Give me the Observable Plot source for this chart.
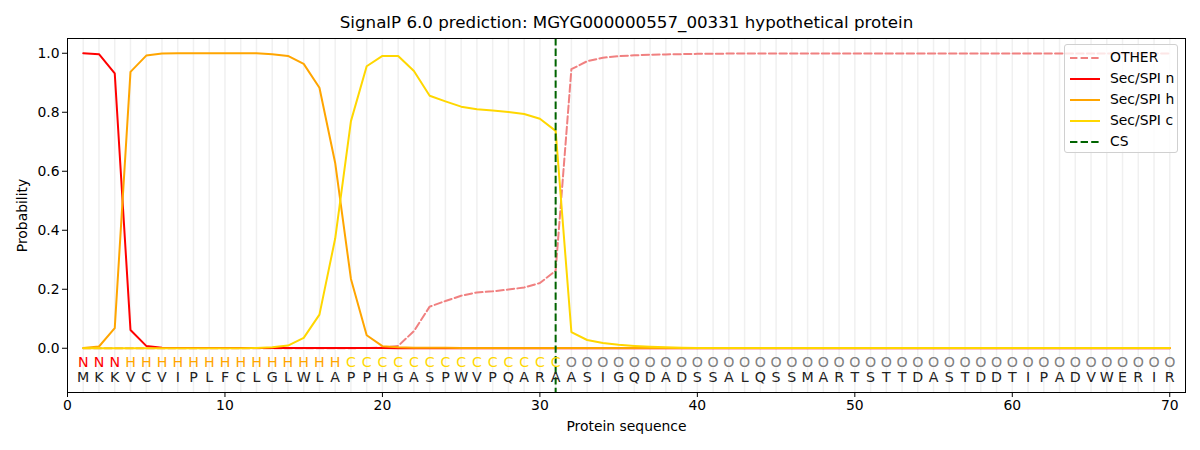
<!DOCTYPE html>
<html>
<head>
<meta charset="utf-8">
<script src="https://cdn.jsdelivr.net/npm/d3@7"></script>
<script src="https://cdn.jsdelivr.net/npm/@observablehq/plot@0.6"></script>
<style>
  body { margin: 0; background: white; }
  #wrap { position: relative; width: 1200px; height: 450px; font-family: "DejaVu Sans", sans-serif; }
  #legend { position: absolute; left: 1064px; top: 44px; width: 112px; height: 107px; border: 1px solid #d0d0d0; border-radius: 3px; background: rgba(255,255,255,0.8); font-size: 13.9px; }
  .row { position: absolute; left: 0; height: 20px; width: 112px; }
  .row svg { position: absolute; left: 4px; top: 4px; }
  .row span { position: absolute; left: 45px; top: 1px; }
</style>
</head>
<body>
<div id="wrap"></div>
<script>
const title = "SignalP 6.0 prediction: MGYG000000557_00331 hypothetical protein";
const sequence = "MKKVCVIPLFCLGLWLAPPHGASPWVPQARAASIGQDADSSALQSSMARTSTTDASTDDTIPADVWERIR".split("");
const labels = "NNNHHHHHHHHHHHHHHCCCCCCCCCCCCCCOOOOOOOOOOOOOOOOOOOOOOOOOOOOOOOOOOOOOOO".split("");
const cleavageSite = 31;
const xTicks = [0, 10, 20, 30, 40, 50, 60, 70];
const yTicks = [0.0, 0.2, 0.4, 0.6, 0.8, 1.0];

const other = [0,0,0,0,0,0,0,0,0,0,
  0,0,0,0,0,0,0,0,0.001,0.002,
  0.008,0.058,0.141,0.16,0.178,0.189,0.193,0.199,0.206,0.221,
  0.263,0.946,0.973,0.985,0.99,0.993,0.995,0.996,0.997,0.998,
  0.998,0.999,0.999,0.999,0.999,0.999,0.999,0.999,0.999,0.999,
  0.999,0.999,0.999,0.999,0.999,0.999,0.999,0.999,0.999,0.999,
  0.999,0.999,0.999,0.999,0.999,0.999,0.999,0.999,0.999,0.999];
const secN = [1.0,0.997,0.932,0.062,0.008,0.002,0.001,0.001,0.001,0.001,
  0.001,0.001,0.001,0.001,0.001,0.001,0.001,0.001,0.001,0.001,
  0,0,0,0,0,0,0,0,0,0,
  0,0,0,0,0,0,0,0,0,0,
  0,0,0,0,0,0,0,0,0,0,
  0,0,0,0,0,0,0,0,0,0,
  0,0,0,0,0,0,0,0,0,0];
const secH = [0.001,0.006,0.068,0.937,0.992,0.999,1,1,1,1,
  1,1,0.997,0.991,0.964,0.883,0.628,0.235,0.044,0.007,
  0.003,0.002,0.002,0.002,0.001,0.001,0.001,0.001,0.001,0.001,
  0.001,0.001,0.001,0.001,0.001,0.001,0.001,0.001,0.001,0.001,
  0.001,0.001,0.001,0.001,0.001,0.001,0.001,0.001,0.001,0.001,
  0.001,0.001,0.001,0.001,0.001,0.001,0.001,0.001,0.001,0.001,
  0.001,0.001,0.001,0.001,0.001,0.001,0.001,0.001,0.001,0.001];
const secC = [0,0,0,0,0,0,0,0,0,0,
  0,0.001,0.003,0.009,0.035,0.114,0.372,0.77,0.956,0.991,
  0.991,0.94,0.856,0.837,0.819,0.81,0.806,0.801,0.794,0.778,
  0.737,0.055,0.028,0.018,0.012,0.008,0.005,0.003,0.002,0.001,
  0.001,0.001,0.001,0.001,0.001,0.001,0.001,0.001,0.001,0.001,
  0.001,0.001,0.001,0.001,0.001,0.001,0.001,0.001,0.001,0.001,
  0.001,0.001,0.001,0.001,0.001,0.001,0.001,0.001,0.001,0.001];

const seriesNames = ["OTHER", "Sec/SPI n", "Sec/SPI h", "Sec/SPI c"];
const seriesColors = ["#f08080", "#ff0000", "#ffa500", "#ffd700"];
const labelColors = {N: "#ff0000", H: "#ffa500", C: "#ffd700", O: "#808080"};

const rows = sequence.map((aa, i) => ({pos: i + 1, aa, lab: labels[i]}));
const mk = arr => arr.map((v, i) => ({pos: i + 1, p: v}));
const seriesData = [other, secN, secH, secC].map(mk);

const lineMarks = seriesData.map((d, k) => Plot.line(d, {
  x: "pos", y: "p", stroke: seriesColors[k], strokeWidth: 2,
  strokeDasharray: k === 0 ? "7.4,3.2" : null
}));

const labelMarks = Object.keys(labelColors).map(L => Plot.text(rows.filter(r => r.lab === L), {
  x: "pos", y: -0.047, text: "lab", fill: labelColors[L], fontSize: 14.2
}));

const chart = Plot.plot({
  width: 1200, height: 450,
  marginLeft: 67, marginRight: 15, marginTop: 38, marginBottom: 58,
  style: {fontFamily: "DejaVu Sans, sans-serif", fontSize: "13.9px", background: "white", color: "black", overflow: "visible"},
  x: {domain: [0, 71]},
  y: {domain: [-0.15, 1.05]},
  marks: [
    Plot.ruleX(rows, {x: "pos", stroke: "#f0f0f0", strokeWidth: 1.5}),
    ...lineMarks,
    Plot.ruleX([cleavageSite], {stroke: "#006400", strokeWidth: 2, strokeDasharray: "7.4,3.2"}),
    ...labelMarks,
    Plot.text(rows, {x: "pos", y: -0.098, text: "aa", fill: "#222", fontSize: 14.2}),
    Plot.frame({stroke: "black", strokeWidth: 1}),
    Plot.axisX({ticks: xTicks, tickSize: 5, tickPadding: 3, tickFormat: d3.format("d"),
      label: "Protein sequence", labelAnchor: "center", labelArrow: "none", labelOffset: 38}),
    Plot.axisY({ticks: yTicks, tickSize: 5, tickPadding: 3, tickFormat: d3.format(".1f"),
      label: "Probability", labelAnchor: "center", labelArrow: "none", labelOffset: 50}),
    Plot.text([title], {frameAnchor: "top", dy: -22, fontSize: 16.7, fill: "black"})
  ]
});

const wrap = document.getElementById("wrap");
wrap.appendChild(chart);

const legend = document.createElement("div");
legend.id = "legend";
const legendItems = [
  {name: seriesNames[0], color: seriesColors[0], dash: "7.4,3.2"},
  {name: seriesNames[1], color: seriesColors[1], dash: null},
  {name: seriesNames[2], color: seriesColors[2], dash: null},
  {name: seriesNames[3], color: seriesColors[3], dash: null},
  {name: "CS", color: "#006400", dash: "7.4,3.2"}
];
legendItems.forEach((it, i) => {
  const r = document.createElement("div");
  r.className = "row";
  r.style.top = (3 + i * 21) + "px";
  r.innerHTML = `<svg width="32" height="12"><line x1="1" y1="6" x2="31" y2="6" stroke="${it.color}" stroke-width="2" ${it.dash ? `stroke-dasharray="${it.dash}"` : ""}/></svg><span>${it.name}</span>`;
  legend.appendChild(r);
});
wrap.appendChild(legend);
</script>
</body>
</html>
